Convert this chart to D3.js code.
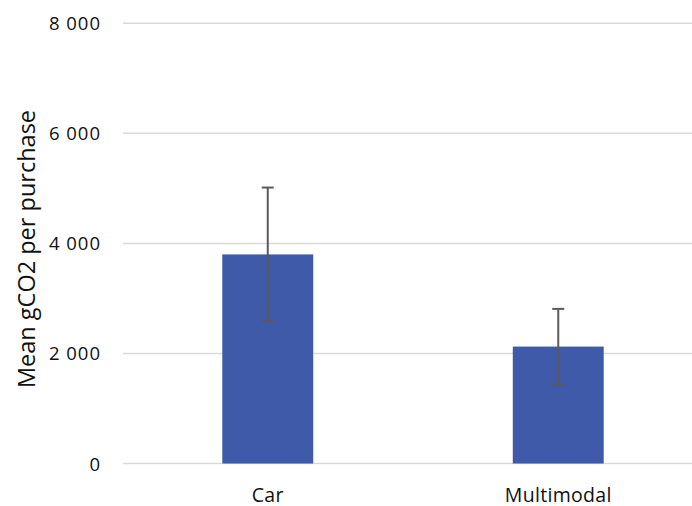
<!DOCTYPE html>
<html><head><meta charset="utf-8">
<script src="https://cdn.jsdelivr.net/npm/d3@7"></script>
<style>body{margin:0;background:#fff}svg{display:block}</style>
</head><body>
<svg id="chart" width="692" height="506"></svg>
<script>
const categories = ["Car", "Multimodal"];
const means = [3800, 2125];
const errors = [1215, 685];
const yTicks = [0, 2000, 4000, 6000, 8000];
const yTitle = "Mean gCO2 per purchase";

const svg = d3.select("#chart");
const font = "'Open Sans', sans-serif";
const y = d3.scaleLinear().domain([0, 8000]).range([463.5, 23.3]);
const x = d3.scaleBand().domain(categories).range([122.5, 703.5]).paddingInner(0.687).paddingOuter(0.3435);

// gridlines
svg.append("g").selectAll("line").data(yTicks).join("line")
  .attr("x1", 123).attr("x2", 692)
  .attr("y1", d => y(d)).attr("y2", d => y(d))
  .attr("stroke", "#d9d9d9").attr("stroke-width", 1.5);

// y tick labels
const fmt = d => d3.format(",")(d).replace(/,/g, " ");
svg.append("g").selectAll("text").data(yTicks).join("text")
  .attr("x", 101).attr("y", d => y(d) + 7)
  .attr("text-anchor", "end")
  .attr("font-family", font).attr("font-size", 18.5)
  .attr("letter-spacing", "1px")
  .attr("fill", "#111")
  .text(fmt);

// bars
svg.append("g").selectAll("rect").data(categories).join("rect")
  .attr("x", d => x(d)).attr("width", x.bandwidth())
  .attr("y", (d, i) => y(means[i]))
  .attr("height", (d, i) => y(0) - y(means[i]))
  .attr("fill", "#3f5aa8");

// error bars
const eg = svg.append("g").attr("stroke", "#5a5a5a").attr("stroke-width", 2);
categories.forEach((c, i) => {
  const cx = x(c) + x.bandwidth() / 2;
  const hi = y(means[i] + errors[i]), lo = y(means[i] - errors[i]);
  eg.append("line").attr("x1", cx).attr("x2", cx).attr("y1", hi).attr("y2", lo);
  eg.append("line").attr("x1", cx - 6).attr("x2", cx + 6).attr("y1", hi).attr("y2", hi);
  eg.append("line").attr("x1", cx - 6).attr("x2", cx + 6).attr("y1", lo).attr("y2", lo);
});

// x labels
svg.append("g").selectAll("text").data(categories).join("text")
  .attr("x", d => x(d) + x.bandwidth() / 2).attr("y", 501.5)
  .attr("text-anchor", "middle")
  .attr("font-family", font).attr("font-size", 19.5)
  .attr("letter-spacing", "0.3px")
  .attr("fill", "#111")
  .text(d => d);

// y title
svg.append("text")
  .attr("transform", "translate(35,249) rotate(-90)")
  .attr("text-anchor", "middle")
  .attr("font-family", font).attr("font-size", 23.5)
  .attr("fill", "#111")
  .text(yTitle);
</script>
</body></html>
